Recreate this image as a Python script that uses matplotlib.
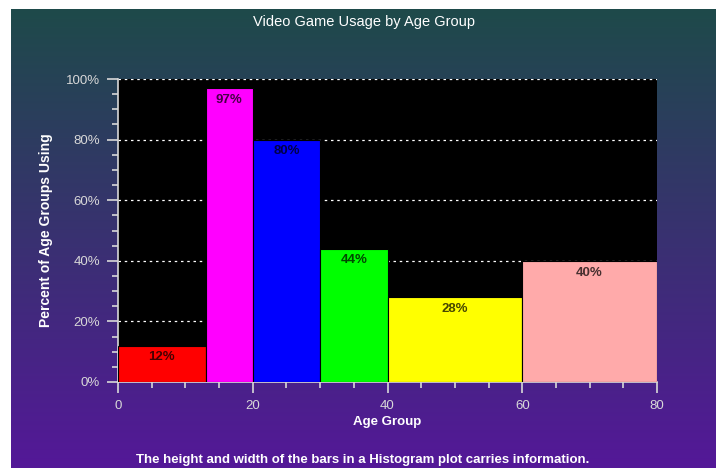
import numpy as np
import matplotlib
matplotlib.use('Agg')
import matplotlib.pyplot as plt
from matplotlib.ticker import MultipleLocator, FuncFormatter

# data: bin edges (age) and percent using in each bin
edges = [0, 13, 20, 30, 40, 60, 80]
percent = [12, 97, 80, 44, 28, 40]
colors = ['#ff0000', '#ff00ff', '#0000ff', '#00ff00', '#ffff00', '#ffaaaa']

plt.rcParams['font.family'] = ['Liberation Sans', 'DejaVu Sans']

fig = plt.figure(figsize=(7.16, 4.68), dpi=100, facecolor='white')

# gradient background panel (teal at top -> purple at bottom)
bg = fig.add_axes([11 / 716, 0, 1 - 11 / 716, 1 - 9 / 468])
top = np.array([0x1e, 0x4a, 0x4a]) / 255
bot = np.array([0x54, 0x18, 0x98]) / 255
t = np.linspace(0, 1, 256)[:, None]
grad = (top * (1 - t) + bot * t)[:, None, :]
bg.imshow(grad, aspect='auto', extent=[0, 1, 0, 1])
bg.axis('off')

ax = fig.add_axes([118 / 716, 86 / 468, 539 / 716, 303 / 468])
ax.set_facecolor('black')

lefts = edges[:-1]
widths = np.diff(edges)
bars = ax.bar(lefts, percent, width=widths, align='edge', color=colors,
              edgecolor='black', linewidth=0.8, zorder=3)

for b, p in zip(bars, percent):
    ax.annotate(f'{p}%', (b.get_x() + b.get_width() / 2, p),
                xytext=(0, -8.5), textcoords='offset points',
                ha='center', va='center', fontsize=9.5, fontweight='bold',
                color='black', alpha=0.72, zorder=4)

ax.set_xlim(0, 80)
ax.set_ylim(0, 100)
ax.xaxis.set_major_locator(MultipleLocator(20))
ax.xaxis.set_minor_locator(MultipleLocator(5))
ax.yaxis.set_major_locator(MultipleLocator(20))
ax.yaxis.set_minor_locator(MultipleLocator(5))
ax.yaxis.set_major_formatter(FuncFormatter(lambda v, _: f'{v:.0f}%'))

ax.grid(axis='y', which='major', color='white', linestyle=(0, (2, 3)),
        linewidth=0.9, zorder=1)

grey = '#d8d8d8'
for s in ['top', 'right']:
    ax.spines[s].set_visible(False)
for s in ['left', 'bottom']:
    ax.spines[s].set_color(grey)
    ax.spines[s].set_linewidth(1.2)
ax.tick_params(which='major', direction='out', length=8, width=1.2,
               colors=grey, labelsize=9.5, pad=5)
ax.tick_params(which='minor', direction='out', length=4.5, width=1.2,
               colors=grey)

ax.set_xlabel('Age Group', color='white', fontsize=9.5, fontweight='bold',
              labelpad=3)
ax.set_ylabel('Percent of Age Groups Using', color='white', fontsize=10,
              fontweight='bold', labelpad=9)

fig.text(0.508, 1 - 22 / 468, 'Video Game Usage by Age Group', color='white',
         fontsize=10.5, ha='center', va='center')
fig.text(0.507, 1 - 460 / 468,
         'The height and width of the bars in a Histogram plot carries information.',
         color='white', fontsize=9.5, fontweight='bold', ha='center', va='center')

fig.savefig('out.png', dpi=100, facecolor=fig.get_facecolor())
